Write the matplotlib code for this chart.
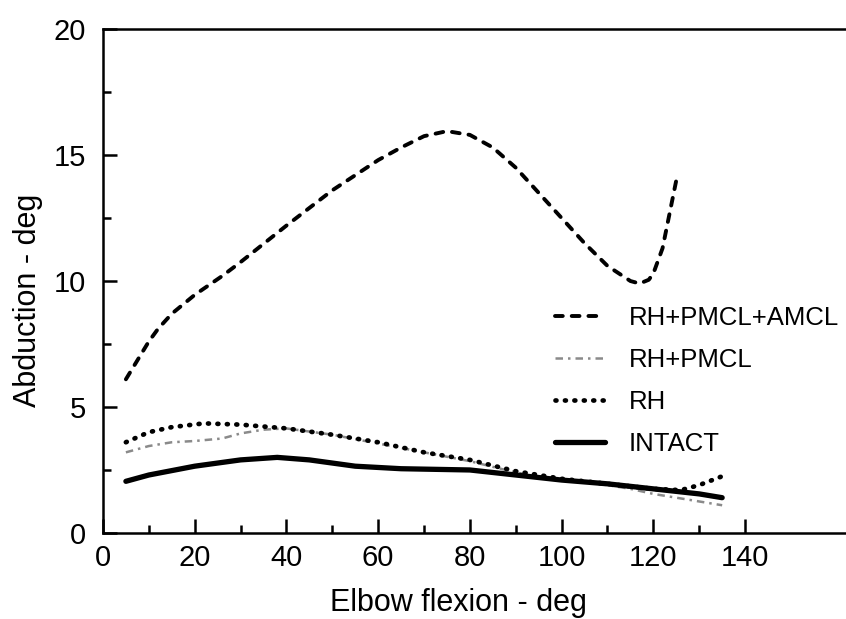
import numpy as np
import matplotlib
matplotlib.use("Agg")
import matplotlib.pyplot as plt

plt.rcParams['font.family'] = ['Liberation Sans', 'DejaVu Sans']

# flexion angles (deg) and abduction (deg)
x_amcl = [5, 8, 10, 12, 15, 20, 26, 30, 40, 50, 60, 65, 70, 75, 80, 85, 90,
          95, 100, 105, 110, 115, 117, 119, 120, 122, 125]
y_amcl = [6.1, 7.0, 7.6, 8.1, 8.7, 9.45, 10.2, 10.75, 12.2, 13.6, 14.8, 15.3,
          15.75, 15.95, 15.8, 15.3, 14.5, 13.5, 12.5, 11.5, 10.6, 10.0, 9.9,
          10.05, 10.3, 11.3, 14.0]

x_pmcl = [5, 10, 15, 20, 26, 30, 35, 40, 50, 60, 70, 80, 90, 100, 110, 115,
          120, 125, 130, 135]
y_pmcl = [3.2, 3.45, 3.6, 3.65, 3.75, 3.95, 4.1, 4.15, 3.9, 3.55, 3.2, 2.85,
          2.4, 2.1, 1.9, 1.75, 1.55, 1.4, 1.25, 1.1]

x_rh = [5, 10, 15, 22, 30, 40, 50, 60, 65, 70, 80, 90, 100, 110, 120, 126,
        130, 135]
y_rh = [3.6, 4.0, 4.2, 4.35, 4.3, 4.15, 3.9, 3.6, 3.4, 3.2, 2.9, 2.45, 2.15,
        1.95, 1.75, 1.7, 1.9, 2.25]

x_int = [5, 10, 20, 30, 38, 45, 55, 65, 80, 90, 100, 110, 120, 130, 135]
y_int = [2.05, 2.3, 2.65, 2.9, 3.0, 2.9, 2.65, 2.55, 2.5, 2.3, 2.1, 1.95,
         1.75, 1.55, 1.4]

labels = ['RH+PMCL+AMCL', 'RH+PMCL', 'RH', 'INTACT']

fig = plt.figure(figsize=(8.46, 6.19), dpi=100)
ax = fig.add_axes([0.1217, 0.139, 0.8783, 0.814])

ax.plot(x_amcl, y_amcl, color='black', lw=2.8, linestyle=(0, (2.0, 2.3)),
        dash_capstyle='round', label=labels[0])
ax.plot(x_pmcl, y_pmcl, color='#8a8a8a', lw=1.8, linestyle=(0, (3, 2, 1, 2)),
        label=labels[1])
ax.plot(x_rh, y_rh, color='black', lw=3.4, linestyle=(0, (0.2, 1.8)),
        dash_capstyle='round', label=labels[2])
ax.plot(x_int, y_int, color='black', lw=3.8, solid_capstyle='round',
        label=labels[3])

ax.set_xlim(0, 162)
ax.set_ylim(0, 20)
ax.set_xticks([0, 20, 40, 60, 80, 100, 120, 140])
ax.set_xticks(np.arange(10, 140, 20), minor=True)
ax.set_yticks([0, 5, 10, 15, 20])
ax.set_yticks([2.5, 7.5, 12.5, 17.5], minor=True)
ax.tick_params(which='major', direction='in', length=10, width=1.8,
               labelsize=21, pad=8)
ax.tick_params(which='minor', direction='in', length=6, width=1.8)
ax.tick_params(axis='y', pad=12)

ax.spines['right'].set_visible(False)
for s in ['left', 'bottom', 'top']:
    ax.spines[s].set_linewidth(1.8)

ax.set_xlabel('Elbow flexion - deg', fontsize=22)
ax.xaxis.set_label_coords(0.478, -0.11)
ax.set_ylabel('Abduction - deg', fontsize=22)
ax.yaxis.set_label_coords(-0.081, 0.462)

ax.legend(loc='upper left', bbox_to_anchor=(0.595, 0.47), frameon=False,
          fontsize=18.5, handlelength=1.95, labelspacing=0.7, handletextpad=0.9,
          borderaxespad=0)

fig.savefig('out.png', dpi=100)
